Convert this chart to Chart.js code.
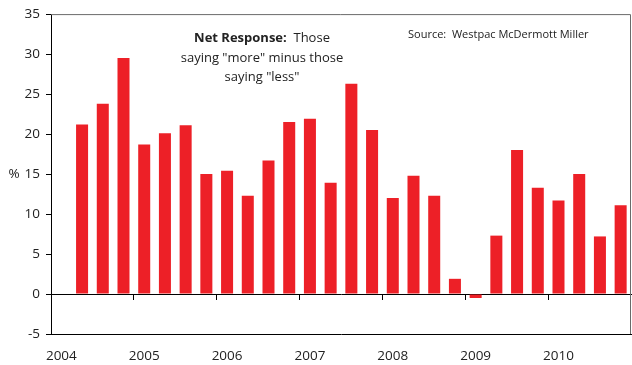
<!DOCTYPE html>
<html>
<head>
<meta charset="utf-8">
<script src="https://cdn.jsdelivr.net/npm/chart.js@4.4.1/dist/chart.umd.min.js"></script>
<style>
  html, body { margin: 0; padding: 0; background: #fff; }
  #wrap { width: 632px; height: 365px; }
</style>
</head>
<body>
<div id="wrap"><canvas id="netChart" width="632" height="365"></canvas></div>
<script>
// quarterly survey periods, 2004 Q1 to 2010 Q4
const quarters = [
  '2004Q1', '2004Q2', '2004Q3', '2004Q4',
  '2005Q1', '2005Q2', '2005Q3', '2005Q4',
  '2006Q1', '2006Q2', '2006Q3', '2006Q4',
  '2007Q1', '2007Q2', '2007Q3', '2007Q4',
  '2008Q1', '2008Q2', '2008Q3', '2008Q4',
  '2009Q1', '2009Q2', '2009Q3', '2009Q4',
  '2010Q1', '2010Q2', '2010Q3', '2010Q4'
];

// net response, % saying "more" minus % saying "less"
const netResponse = [
  null, 21.2, 23.8, 29.5,
  18.7, 20.1, 21.1, 15.0,
  15.4, 12.3, 16.7, 21.5,
  21.9, 13.9, 26.3, 20.5,
  12.0, 14.8, 12.3, 1.9,
  -0.5, 7.3, 18.0, 13.3,
  11.7, 15.0, 7.2, 11.1
];

const yearLabels = ['2004', '2005', '2006', '2007', '2008', '2009', '2010'];
const yMin = -5;
const yMax = 35;
const yStep = 5;

const textColor = '#222';
const fontFamily = '"Open Sans", "Noto Sans", sans-serif';

const chartNotes = {
  id: 'chartNotes',
  afterDraw(chart) {
    const { ctx, chartArea, scales } = chart;
    ctx.save();

    // grey frame along the top and right of the plot
    ctx.strokeStyle = '#6a6a6a';
    ctx.lineWidth = 1;
    ctx.beginPath();
    ctx.moveTo(chartArea.left, chartArea.top + 0.5);
    ctx.lineTo(chartArea.right - 0.5, chartArea.top + 0.5);
    ctx.lineTo(chartArea.right - 0.5, chartArea.bottom);
    ctx.stroke();

    ctx.fillStyle = textColor;
    ctx.textBaseline = 'middle';

    // unit label next to the 15 tick
    ctx.font = '13.5px ' + fontFamily;
    ctx.textAlign = 'center';
    ctx.fillText('%', 14, scales.y.getPixelForValue(15));

    // heading: bold lead-in followed by plain text
    const cx = 262;
    const bold = 'bold 13px ' + fontFamily;
    const plain = '13px ' + fontFamily;
    const lead = 'Net Response:';
    const rest = '  Those';
    ctx.font = bold;
    const w1 = ctx.measureText(lead).width;
    ctx.font = plain;
    const w2 = ctx.measureText(rest).width;
    const x = cx - (w1 + w2) / 2;
    ctx.textAlign = 'left';
    ctx.font = bold;
    ctx.fillText(lead, x, 38);
    ctx.font = plain;
    ctx.fillText(rest, x + w1, 38);
    ctx.textAlign = 'center';
    ctx.fillText('saying "more" minus those', cx, 58);
    ctx.fillText('saying "less"', cx, 77);

    // source note
    ctx.font = '11px ' + fontFamily;
    ctx.textAlign = 'left';
    ctx.fillText('Source:  Westpac McDermott Miller', 408, 35);

    ctx.restore();
  }
};

new Chart(document.getElementById('netChart'), {
  type: 'bar',
  data: {
    labels: quarters,
    datasets: [{
      label: 'Net Response',
      data: netResponse,
      backgroundColor: '#ed2027',
      borderWidth: 0,
      categoryPercentage: 1.0,
      barPercentage: 0.58,
      xAxisID: 'x'
    }]
  },
  options: {
    responsive: false,
    animation: false,
    layout: { padding: { top: 13, right: 1, left: 0, bottom: 0 } },
    plugins: {
      legend: { display: false },
      tooltip: { enabled: false }
    },
    scales: {
      x: {
        type: 'category',
        position: 'bottom',
        offset: true,
        // hidden tick marks only push the year labels down
        grid: { display: false, drawTicks: true, tickLength: 14, offset: true },
        border: { display: true, color: '#000', width: 1 },
        ticks: {
          autoSkip: false,
          maxRotation: 0,
          padding: 0,
          color: textColor,
          font: { family: fontFamily, size: 13.5 },
          callback: (value, index) => index % 4 === 0 ? yearLabels[index / 4] : ''
        },
        afterFit: (scale) => { scale.height = 31; }
      },
      // zero line with short year ticks hanging below it
      xZero: {
        type: 'category',
        position: { y: 0 },
        offset: true,
        ticks: { display: false },
        grid: {
          display: true,
          offset: true,
          drawOnChartArea: false,
          drawTicks: true,
          tickLength: 5,
          lineWidth: 1,
          color: (ctx) => ctx.index % 4 === 0 ? '#000' : 'rgba(0,0,0,0)'
        },
        border: { display: true, color: '#000', width: 1 }
      },
      y: {
        min: yMin,
        max: yMax,
        grid: {
          drawOnChartArea: false,
          drawTicks: true,
          tickLength: 5,
          color: '#000'
        },
        border: { display: true, color: '#000', width: 1 },
        ticks: {
          stepSize: yStep,
          padding: 6,
          color: textColor,
          font: { family: fontFamily, size: 13.5 }
        },
        afterFit: (scale) => { scale.width = 51; }
      }
    }
  },
  plugins: [chartNotes]
});
</script>
</body>
</html>
